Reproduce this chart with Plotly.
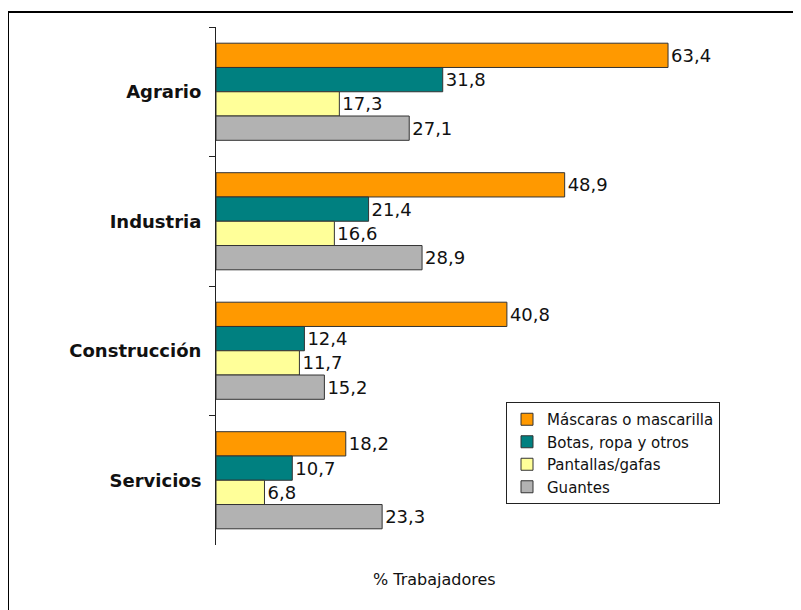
import plotly.graph_objects as go

categories = ["Agrario", "Industria", "Construcción", "Servicios"]
series_names = ["Máscaras o mascarilla", "Botas, ropa y otros", "Pantallas/gafas", "Guantes"]
mascaras = [63.4, 48.9, 40.8, 18.2]
botas = [31.8, 21.4, 12.4, 10.7]
pantallas = [17.3, 16.6, 11.7, 6.8]
guantes = [27.1, 28.9, 15.2, 23.3]
colors = ["#FF9900", "#008080", "#FFFF99", "#B2B2B2"]
x_title = "% Trabajadores"

FONT = "DejaVu Sans"
OFF = 8  # page body margin

fig = go.Figure()
for name, vals, col in zip(series_names, [mascaras, botas, pantallas, guantes], colors):
    fig.add_trace(go.Bar(
        y=categories, x=vals, name=name, orientation="h",
        marker=dict(color=col, line=dict(color="#333333", width=1)),
        text=[f"{v:.1f}".replace(".", ",") for v in vals],
        textposition="outside", cliponaxis=False,
        textfont=dict(family=FONT, size=18, color="#111111"),
    ))

L, R, T, B = 216 - OFF, 760 - OFF, 27 - OFF, 545 - OFF
W, H = 801 - OFF, 610 - OFF
pw, ph = R - L, B - T

def px(x):
    return (x - OFF - L) / pw

def py(y):
    return (B - (y - OFF)) / ph

fig.update_layout(
    width=W, height=H,
    margin=dict(l=L, r=W - R, t=T, b=H - B),
    paper_bgcolor="white", plot_bgcolor="white",
    barmode="group", bargap=0.25, bargroupgap=0,
    showlegend=True,
    legend=dict(
        x=px(720), y=py(402), xanchor="right", yanchor="top",
        bordercolor="#222222", borderwidth=1, bgcolor="white",
        font=dict(family=FONT, size=15, color="#111111"),
        traceorder="normal", itemwidth=30,
    ),
    xaxis=dict(range=[0, pw / 7.13], visible=False, fixedrange=True),
    yaxis=dict(
        autorange="reversed", tickson="boundaries", ticks="outside",
        ticklen=6, tickcolor="#222222", showline=True, linecolor="#222222",
        linewidth=1, showgrid=False, ticklabelstandoff=10,
        tickfont=dict(family=FONT, size=18, color="#111111", weight="bold"),
    ),
    shapes=[dict(type="rect", xref="paper", yref="paper",
                 x0=px(8), x1=px(815), y0=py(625), y1=py(12),
                 line=dict(color="black", width=2))],
    annotations=[dict(text=x_title, xref="paper", yref="paper",
                      x=px(434), y=py(579), showarrow=False,
                      xanchor="center", yanchor="middle",
                      font=dict(family=FONT, size=16, color="#111111"))],
)

fig.write_html("out.html")
